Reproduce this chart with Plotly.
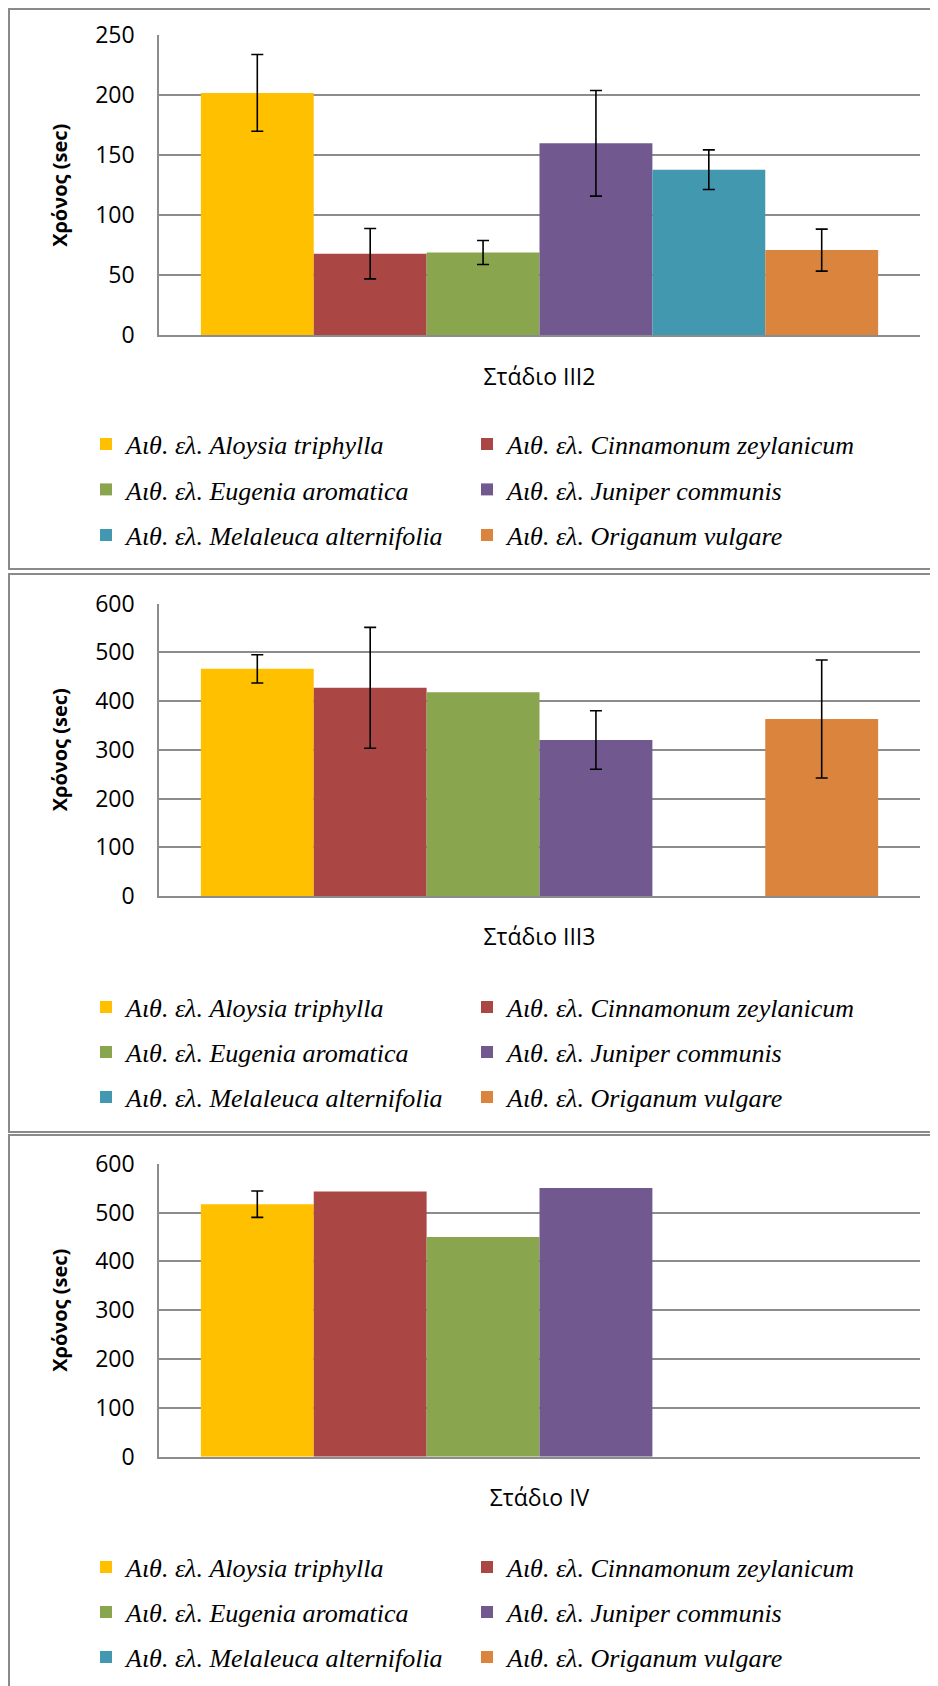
import plotly.graph_objects as go

W, H = 938, 1686
OFF = 8  # browser body margin offset

species = [
    "Αιθ. ελ. Aloysia triphylla",
    "Αιθ. ελ. Cinnamonum zeylanicum",
    "Αιθ. ελ. Eugenia aromatica",
    "Αιθ. ελ. Juniper communis",
    "Αιθ. ελ. Melaleuca alternifolia",
    "Αιθ. ελ. Origanum vulgare",
]
colors = ["#FFC000", "#AA4643", "#89A54E", "#71588F", "#4198AF", "#DB843D"]

stages = ["Στάδιο III2", "Στάδιο III3", "Στάδιο IV"]

means_iii2 = [202, 68, 69, 160, 138, 71]
err_iii2 = [32, 21, 10, 44, 16.5, 17.5]

means_iii3 = [466, 427, 418, 320, None, 363]
err_iii3 = [29, 124, None, 60, None, 121]

means_iv = [517, 543, 450, 550, None, None]
err_iv = [27, None, None, None, None, None]

y_max = [250, 600, 600]
y_dtick = [50, 100, 100]

panels = [
    (means_iii2, err_iii2),
    (means_iii3, err_iii3),
    (means_iv, err_iv),
]

# screen pixel layout (top, bottom of plot area) per panel
plot_px = [(35.3, 335.3), (603.5, 896.0), (1163.7, 1456.7)]
legend_rows_px = [(444, 489.5, 535), (1007, 1052, 1097), (1567, 1612, 1657)]
border_px = [(9, 569), (574, 1132), (1135, 1700)]
x_left, x_right = 159, 920
legend_col_px = [86, 467]


def fx(px):
    return (px - OFF) / W


def fy(py):
    return 1 - (py - OFF) / H


fig = go.Figure()
layout = dict(
    width=W, height=H, autosize=False,
    margin=dict(l=0, r=0, t=0, b=0, autoexpand=False),
    paper_bgcolor="white", plot_bgcolor="white",
    barmode="group", bargap=0.11, bargroupgap=0,
    showlegend=True,
)

shapes = []
leg_n = 0
for p, (means, errs) in enumerate(panels):
    ax = "" if p == 0 else str(p + 1)
    for i, name in enumerate(species):
        leg_n += 1
        leg_id = "legend" if leg_n == 1 else f"legend{leg_n}"
        tr = dict(
            x=[stages[p]], y=[means[i]], name=name,
            marker=dict(color=colors[i], line=dict(width=0)),
            xaxis="x" + ax, yaxis="y" + ax,
            legend=leg_id, showlegend=True,
            hoverinfo="x+y+name",
        )
        if errs[i] is not None:
            tr["error_y"] = dict(type="data", array=[errs[i]], visible=True,
                                 color="black", thickness=1.6, width=6)
        fig.add_trace(go.Bar(**tr))
        row, col = divmod(i, 2)
        layout[leg_id] = dict(
            x=fx(legend_col_px[col]), xanchor="left",
            y=fy(legend_rows_px[p][row]), yanchor="middle",
            bgcolor="rgba(0,0,0,0)", borderwidth=0,
            font=dict(family="Liberation Serif", size=26, color="black", style="italic"),
            orientation="v",
        )
    top, bot = plot_px[p]
    layout["xaxis" + ax] = dict(
        domain=[fx(x_left), fx(x_right)], anchor="y" + ax,
        type="category", showline=True, linecolor="#8C8C8C", linewidth=1.6,
        showgrid=False, ticks="", ticklabelstandoff=20,
        tickfont=dict(family="Open Sans", size=23, color="black"),
        fixedrange=True,
    )
    layout["yaxis" + ax] = dict(
        domain=[fy(bot), fy(top)], anchor="x" + ax,
        range=[0, y_max[p]], dtick=y_dtick[p], tick0=0,
        showline=True, linecolor="#8C8C8C", linewidth=1.6,
        showgrid=True, gridcolor="#8C8C8C", gridwidth=1.6,
        zeroline=False, ticks="", ticklabelstandoff=18,
        tickfont=dict(family="Open Sans", size=23, color="black"),
        title=dict(text="<b>Χρόνος (sec)</b>", standoff=22,
                   font=dict(family="Open Sans", size=20, color="black")),
        fixedrange=True,
    )
    bt, bb = border_px[p]
    shapes.append(dict(type="rect", xref="paper", yref="paper",
                       x0=fx(9), x1=fx(960), y0=fy(bb), y1=fy(bt),
                       line=dict(color="#8A8A8A", width=2), layer="below"))

layout["shapes"] = shapes
fig.update_layout(**layout)
fig.write_html("out.html")
